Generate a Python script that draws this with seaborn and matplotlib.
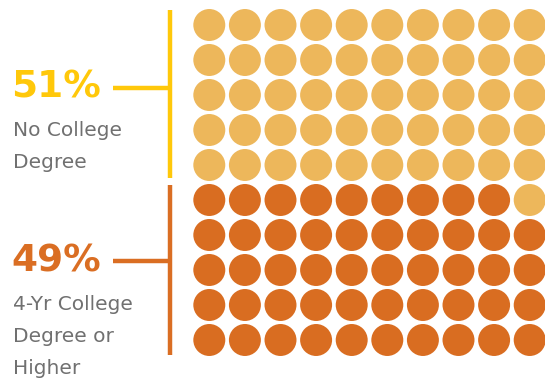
import numpy as np
import pandas as pd
import matplotlib
matplotlib.use("Agg")
import matplotlib.pyplot as plt
import seaborn as sns

categories = ["No College Degree", "4-Yr College Degree or Higher"]
values = [51, 49]
pct_labels = ["51%", "49%"]
desc_labels = [["No College", "Degree"], ["4-Yr College", "Degree or", "Higher"]]
dot_colors = ["#EDB75B", "#D96D21"]
line_colors = ["#FFC80A", "#DA6E23"]

n_cols, n_rows = 10, 10

# Build waffle: fill from bottom row, left to right, with second category first
cells = []
order = [1, 0]
fill = []
for k in order:
    fill += [categories[k]] * values[k]
for idx, cat in enumerate(fill):
    r = n_rows - 1 - idx // n_cols
    c = idx % n_cols
    cells.append({"col": c, "row": r, "category": cat})
df = pd.DataFrame(cells)

W, H = 545, 379
fig = plt.figure(figsize=(W / 100, H / 100), dpi=100)
ax = fig.add_axes([0, 0, 1, 1])
sns.set_style("white")

x0, dx = 209.3, 35.6
y0, dy = 25.0, 35.0
ax.set_xlim(-x0 / dx, (W - x0) / dx)
ax.set_ylim((H - y0) / dy, -y0 / dy)

sns.scatterplot(data=df, x="col", y="row", hue="category",
                hue_order=categories, palette=dot_colors,
                s=530, linewidth=0, legend=False, ax=ax)
ax.set_axis_off()

def px(x, y):
    return ((x - x0) / dx, (y - y0) / dy)

# Bracket lines
lw = 3.2
for (ytop, ybot, ymid), col in zip([(10, 178, 88), (185, 355, 261)], line_colors):
    xa, ya = px(170, ytop)
    xb, yb = px(170, ybot)
    ax.plot([xa, xb], [ya, yb], color=col, lw=lw, solid_capstyle="butt")
    xc, yc = px(113, ymid)
    xd, yd = px(170, ymid)
    ax.plot([xc, xd], [yc, yd], color=col, lw=lw, solid_capstyle="butt")

# Texts
for (ypct, ydesc), pct, desc, col in zip([(88, 131), (262, 304)], pct_labels,
                                          desc_labels, line_colors):
    fig.text(11 / W, 1 - ypct / H, pct, color=col, fontsize=27,
             fontweight="bold", va="center", ha="left")
    for i, line in enumerate(desc):
        fig.text(13 / W, 1 - (ydesc + 32 * i) / H, line, color="#707070",
                 fontsize=14.5, va="center", ha="left")

fig.savefig("out.png", dpi=100)
